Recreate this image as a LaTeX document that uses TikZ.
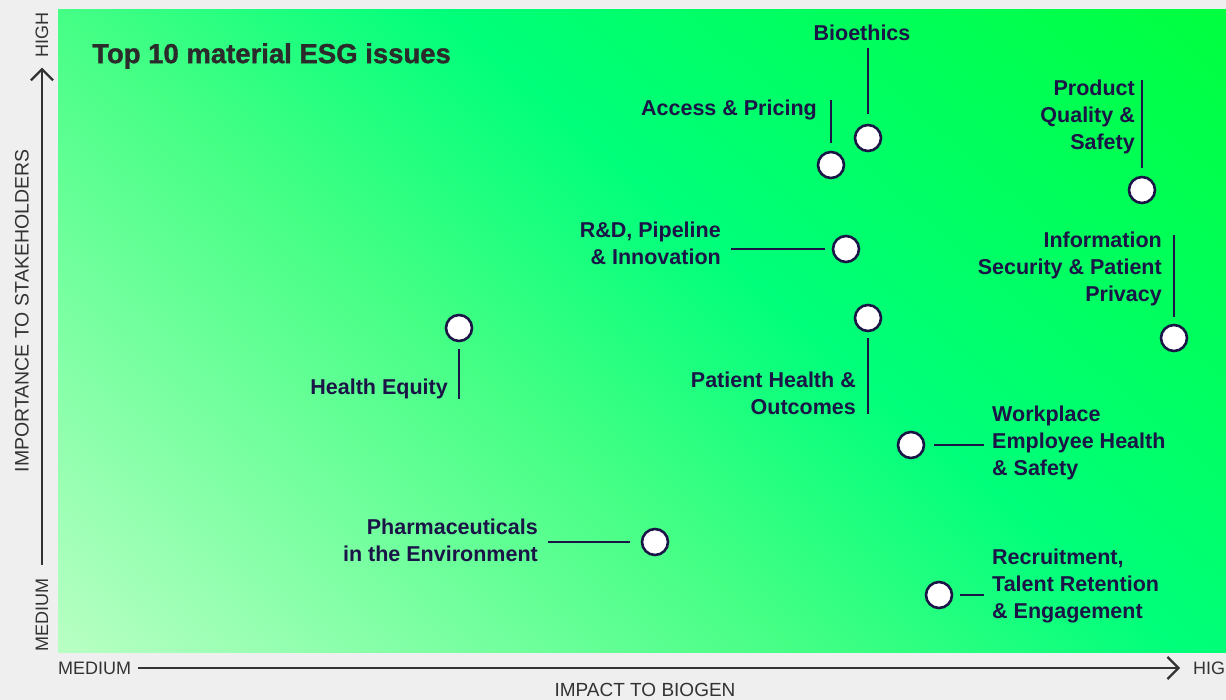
\documentclass[tikz,border=0pt]{standalone}
\usepackage{fontspec}
\setmainfont{Liberation Sans}
\newfontfamily\headfont{Liberation Sans Bold}[FakeBold=1.2]
\usetikzlibrary{arrows.meta}
\definecolor{bgray}{HTML}{EEEFEE}
\definecolor{navy}{HTML}{1B1446}
\definecolor{axisgray}{HTML}{333333}
\definecolor{titlegray}{HTML}{2B2B2B}
\definecolor{esgA}{HTML}{BDFFC6}
\definecolor{esgB}{HTML}{45FF85}
\definecolor{esgC}{HTML}{00FF7A}
\definecolor{esgD}{HTML}{00FF3C}
\pgfdeclarehorizontalshading{esgfade}{100bp}{color(0bp)=(esgA); color(27bp)=(esgA); color(45bp)=(esgB); color(54bp)=(esgC); color(73bp)=(esgD); color(100bp)=(esgD)}
\tikzstyle{issue} = [circle, draw=navy, fill=white, line width=2.6pt, minimum size=26pt, inner sep=0pt]
\tikzstyle{issuetext} = [text=navy, font=\fontsize{21.5}{27}\selectfont\bfseries, inner sep=0pt]
\tikzstyle{axistext} = [text=axisgray, font=\fontsize{18}{20}\selectfont, inner sep=0pt]
\tikzstyle{leader} = [draw=navy, line width=1.3pt]
\tikzset{
  axisline/.style ={draw=axisgray, line width=2.3pt, -{Straight Barb[length=11pt,width=22pt]}}
}

\begin{document}
\begin{tikzpicture}[x=1pt, y=-1pt]
   \useasboundingbox (0,0) rectangle (1226,700);
   \fill [bgray] (0,0) rectangle (1226,700);
   \begin{scope}
      \clip (58,10) rectangle (1226,652);
      \shade [shading=esgfade, shading angle=49] (-58,-369) rectangle (1342,1031);
   \end{scope}
   \node [anchor=west, text=titlegray, font=\fontsize{27.5}{30}\headfont, inner sep=0pt] (title) at (92,56) {Top 10 material ESG issues};
   \node [issue] (bio) at (868,138) {};
   \node [issue] (access) at (831,165) {};
   \node [issue] (quality) at (1142,190) {};
   \node [issue] (rnd) at (846,249) {};
   \node [issue] (privacy) at (1174,338) {};
   \node [issue] (equity) at (459,328) {};
   \node [issue] (outcomes) at (868,318) {};
   \node [issue] (workplace) at (911,445) {};
   \node [issue] (pharma) at (655,542) {};
   \node [issue] (talent) at (939,595) {};
   \node [issuetext] (bio_txt) at (862,33) {Bioethics};
   \node [issuetext, anchor=east] (access_txt) at (817,110) {Access \& Pricing};
   \node [issuetext, anchor=east, align=right] (quality_txt) at (1135,117) {Product\\Quality \&\\Safety};
   \node [issuetext, anchor=east, align=right] (rnd_txt) at (721,243) {R\&D, Pipeline\\\& Innovation};
   \node [issuetext, anchor=east, align=right] (privacy_txt) at (1162,269) {Information\\Security \& Patient\\Privacy};
   \node [issuetext, anchor=east] (equity_txt) at (448,389) {Health Equity};
   \node [issuetext, anchor=east, align=right] (outcomes_txt) at (856,393) {Patient Health \&\\Outcomes};
   \node [issuetext, anchor=west, align=left] (workplace_txt) at (992,443) {Workplace\\Employee Health\\\& Safety};
   \node [issuetext, anchor=east, align=right] (pharma_txt) at (538,540) {Pharmaceuticals\\in the Environment};
   \node [issuetext, anchor=west, align=left] (talent_txt) at (992,586) {Recruitment,\\Talent Retention\\\& Engagement};
   \path [leader, shorten <=10pt, shorten >=7pt] (bio) -- (bio |- bio_txt.south);
   \path [leader, shorten <=8pt] (access) -- (access |- access_txt.north);
   \path [leader, shorten <=8pt] (quality) -- (quality |- quality_txt.north);
   \path [leader, shorten <=7pt, shorten >=10pt] (rnd) -- (rnd -| rnd_txt.east);
   \path [leader, shorten <=7pt, shorten >=3pt] (privacy) -- (privacy |- privacy_txt.north);
   \path [leader, shorten <=7pt] (equity) -- (equity |- equity_txt.south);
   \path [leader, shorten <=6pt, shorten >=1pt] (outcomes) -- (outcomes |- outcomes_txt.south);
   \path [leader, shorten <=9pt, shorten >=8pt] (workplace) -- (workplace -| workplace_txt.west);
   \path [leader, shorten <=11pt, shorten >=10pt] (pharma) -- (pharma -| pharma_txt.east);
   \path [leader, shorten <=7pt, shorten >=8pt] (talent) -- (talent -| talent_txt.west);
   \node [axistext, anchor=west] (xmed) at (58,668) {MEDIUM};
   \node [axistext, anchor=west] (xhigh) at (1193,668) {HIGH};
   \node [axistext, font=\fontsize{19}{20}\selectfont] (xtitle) at (645,690) {IMPACT TO BIOGEN};
   \node [axistext, rotate=90] (ymed) at (42,615) {MEDIUM};
   \node [axistext, rotate=90] (yhigh) at (42,35) {HIGH};
   \node [axistext, rotate=90, font=\fontsize{19.5}{20}\selectfont] (ytitle) at (22,311) {IMPORTANCE TO STAKEHOLDERS};
   \path [axisline, shorten <=7pt, shorten >=13pt] (xmed) -- (xhigh);
   \path [axisline, shorten <=13pt, shorten >=10pt] (ymed) -- (yhigh);
\end{tikzpicture}
\end{document}
